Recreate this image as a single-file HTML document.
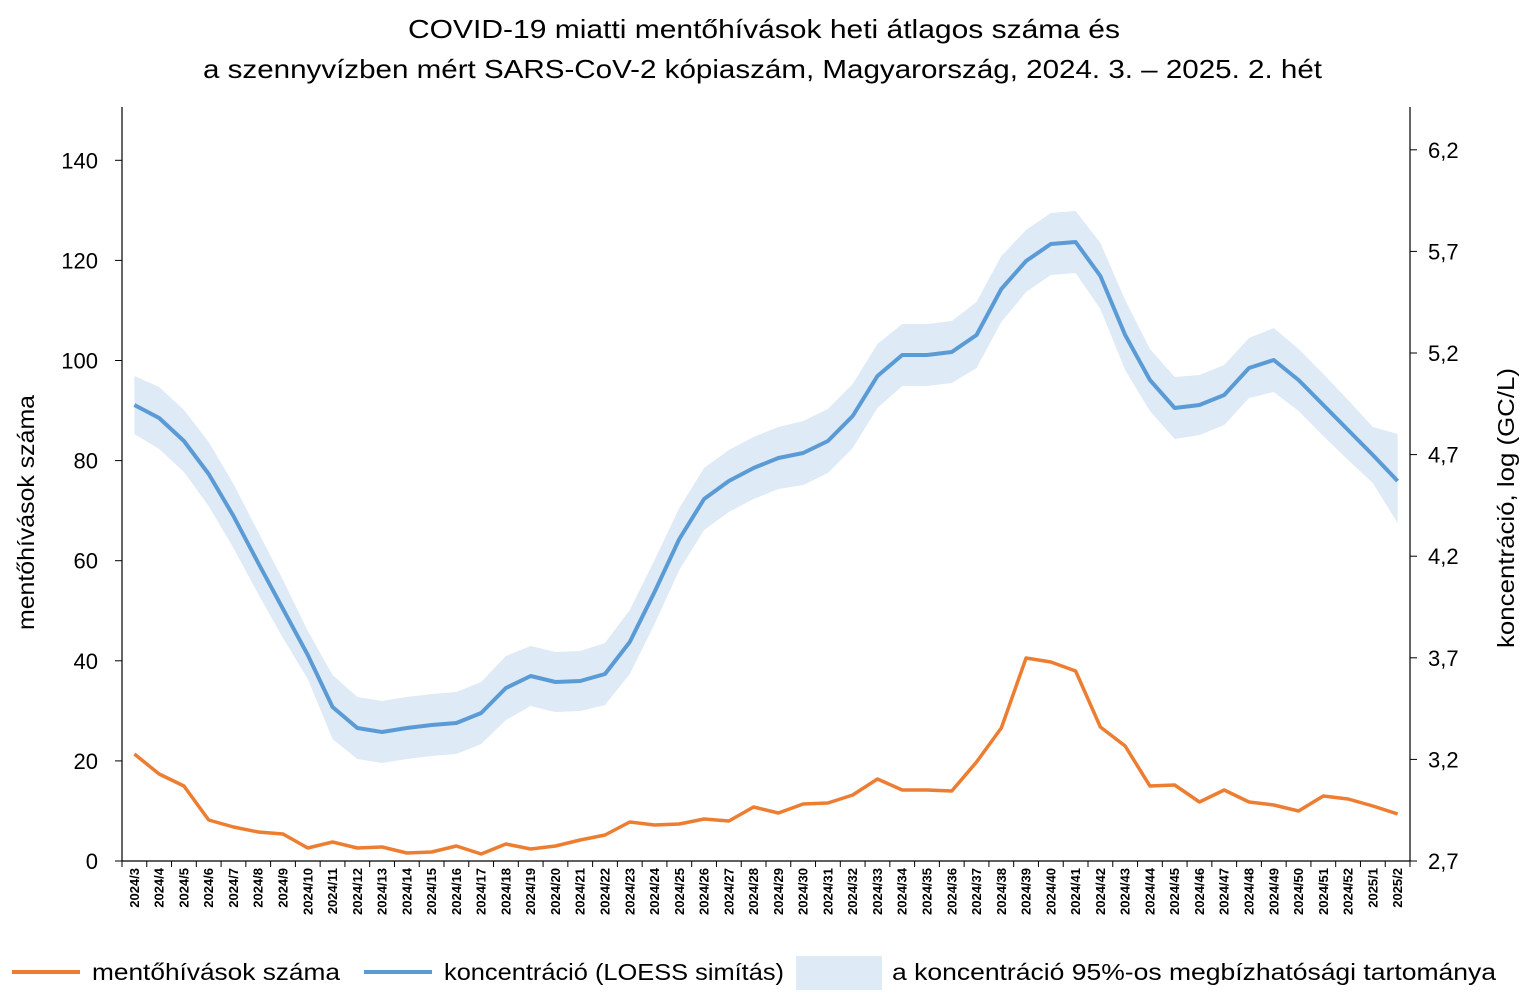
<!DOCTYPE html>
<html><head><meta charset="utf-8"><style>
body{margin:0;background:#fff;}
svg text{font-family:"Liberation Sans",sans-serif;fill:#000;}
</style></head><body>
<svg width="1526" height="997" viewBox="0 0 1526 997" xmlns="http://www.w3.org/2000/svg">
<text x="408" y="38" font-size="26" textLength="712" lengthAdjust="spacingAndGlyphs">COVID-19 miatti mentőhívások heti átlagos száma és</text>
<text x="203" y="78" font-size="26" textLength="1119" lengthAdjust="spacingAndGlyphs">a szennyvízben mért SARS-CoV-2 kópiaszám, Magyarország, 2024. 3. – 2025. 2. hét</text>
<g id="band"></g>
<g id="lines"></g>
<line x1="122" y1="107" x2="122" y2="861" stroke="#000" stroke-width="1.2"/>
<line x1="1410" y1="107" x2="1410" y2="861" stroke="#000" stroke-width="1.2"/>
<line x1="122" y1="861" x2="1410" y2="861" stroke="#000" stroke-width="1.2"/>
<g id="ax" font-size="22"></g>
<text transform="translate(34,630) rotate(-90)" font-size="23" textLength="235" lengthAdjust="spacingAndGlyphs">mentőhívások száma</text>
<text transform="translate(1514,648) rotate(-90)" font-size="23" textLength="280" lengthAdjust="spacingAndGlyphs">koncentráció, log (GC/L)</text>
<line x1="12" y1="972" x2="80" y2="972" stroke="#ED7D31" stroke-width="4"/>
<text x="92" y="980" font-size="23" textLength="248" lengthAdjust="spacingAndGlyphs">mentőhívások száma</text>
<line x1="364" y1="972" x2="432" y2="972" stroke="#5B9BD5" stroke-width="4"/>
<text x="444" y="980" font-size="23" textLength="340" lengthAdjust="spacingAndGlyphs">koncentráció (LOESS simítás)</text>
<rect x="796" y="956" width="86" height="34" fill="#DEEAF6"/>
<text x="892" y="980" font-size="23" textLength="604" lengthAdjust="spacingAndGlyphs">a koncentráció 95%-os megbízhatósági tartománya</text>
<script>
const o=[754,774,786,820,827,832,834,848,842,848,847,853,852,846,854,844,849,846,840,835,822,825,824,819,821,807,813,804,803,795,779,790,790,791,762,728,658,662,671,727,746,786,785,802,790,802,805,811,796,799,806,814];
const b=[405,418,441,474,516,563,609,655,707,728,732,728,725,723,713,688,676,682,681,674,642,592,539,499,481,468,458,453,441,416,376,355,355,352,335,289,261,244,242,276,335,380,408,405,395,368,360,380,405,430,455,481];
const u=[376,387,410,442,484,532,580,631,675,697,701,697,694,692,682,656,646,652,651,643,610,560,508,468,450,437,427,421,409,384,344,324,324,321,302,256,230,213,211,243,300,349,377,375,365,338,328,349,374,400,427,434];
const step=1288/52,X=i=>122+step*(i+0.5);
let up=u.map((v,i)=>X(i)+','+v),lo=b.map((v,i)=>X(i)+','+(2*v-u[i]));lo[51]=X(51)+',523';
const ns='http://www.w3.org/2000/svg';
function el(p,t,a,txt){const e=document.createElementNS(ns,t);for(const k in a)e.setAttribute(k,a[k]);if(txt!==undefined)e.textContent=txt;p.appendChild(e);return e;}
el(document.getElementById('band'),'polygon',{points:up.concat(lo.reverse()).join(' '),fill:'#DEEAF6'});
const L=document.getElementById('lines');
el(L,'polyline',{points:b.map((v,i)=>X(i)+','+v).join(' '),fill:'none',stroke:'#5B9BD5','stroke-width':4,'stroke-linejoin':'round'});
el(L,'polyline',{points:o.map((v,i)=>X(i)+','+v).join(' '),fill:'none',stroke:'#ED7D31','stroke-width':3.5,'stroke-linejoin':'round'});
const A=document.getElementById('ax');
for(let k=0;k<=7;k++){const y=861-k*100.1;el(A,'line',{x1:115,x2:122,y1:y,y2:y,stroke:'#000'});el(A,'text',{x:98,y:y+8,'text-anchor':'end'},String(k*20));}
const r=['2,7','3,2','3,7','4,2','4,7','5,2','5,7','6,2'];
for(let k=0;k<8;k++){const y=861-k*101.6;el(A,'line',{x1:1410,x2:1417,y1:y,y2:y,stroke:'#000'});el(A,'text',{x:1428,y:y+8},r[k]);}
for(let i=0;i<=52;i++){const x=122+step*i;el(A,'line',{x1:x,x2:x,y1:861,y2:867,stroke:'#000'});}
for(let i=0;i<52;i++){const lab=i<50?'2024/'+(i+3):'2025/'+(i-49);el(A,'text',{transform:`translate(${X(i)+4.5},868) rotate(-90)`,'font-size':13,'font-weight':'bold','text-anchor':'end'},lab);}
</script>
</svg>
</body></html>
